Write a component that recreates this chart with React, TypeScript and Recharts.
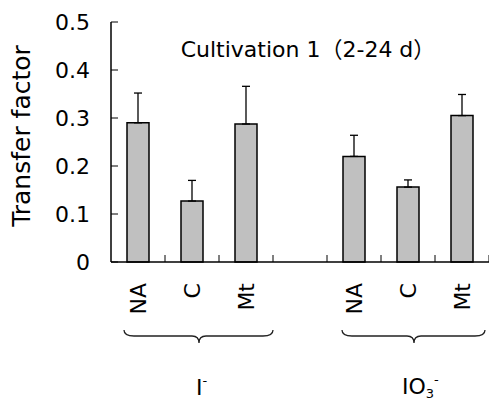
import { BarChart, Bar, XAxis, YAxis, ErrorBar, Customized } from "recharts";

const FONT = "'DejaVu Sans', 'Noto Sans CJK JP', sans-serif";

// categories along the x axis (empty slot separates the two groups)
const categories = ["NA", "C", "Mt", "", "NA", "C", "Mt"];
const transferFactor = [0.29, 0.127, 0.2875, null, 0.22, 0.156, 0.305];
const errorTop = [0.352, 0.17, 0.366, null, 0.264, 0.171, 0.349];
const yTicks = [0, 0.1, 0.2, 0.3, 0.4, 0.5];
const title = "Cultivation 1（2-24 d）";
const yLabel = "Transfer factor";

const W = 489;
const H = 401;
const LEFT = 111;
const TOP = 22;
const X_AXIS_H = 139;
const BAND = (W - LEFT) / categories.length;

const data = categories.map((c, i) => ({
  key: `c${i}`,
  label: c,
  value: transferFactor[i],
  err:
    transferFactor[i] == null
      ? null
      : [0, (errorTop[i] as number) - (transferFactor[i] as number)],
}));

const Brace = ({ x0, x1, xc, y }: { x0: number; x1: number; xc: number; y: number }) => {
  const r = 7;
  const d = `M${x0},${y} Q${x0},${y + 6} ${x0 + r + 3},${y + 6} L${xc - r},${y + 6} Q${xc},${y + 6} ${xc},${y + 13} Q${xc},${y + 6} ${xc + r},${y + 6} L${x1 - r - 3},${y + 6} Q${x1},${y + 6} ${x1},${y}`;
  return <path d={d} fill="none" stroke="#222" strokeWidth={1.3} />;
};

const XTick = (props: any) => {
  const { x, y, payload } = props;
  const i = payload.index;
  const label = categories[i];
  return (
    <g>
      <line x1={x + BAND / 2} y1={y} x2={x + BAND / 2} y2={y - 7} stroke="#000" strokeWidth={1} />
      {label && (
        <text
          x={x}
          y={y + 21}
          transform={`rotate(-90 ${x} ${y + 21})`}
          textAnchor="end"
          dy="0.36em"
          fontSize={22}
          fontFamily={FONT}
          fill="#000"
        >
          {label}
        </text>
      )}
      {i === 1 && (
        <g>
          <Brace x0={x - 68} x1={x + 81} xc={x + 7} y={y + 68} />
          <text x={x + 4} y={y + 133} fontSize={22} fontFamily={FONT} fill="#000">
            I<tspan dy={-10} fontSize={13}>-</tspan>
          </text>
        </g>
      )}
      {i === 5 && (
        <g>
          <Brace x0={x - 66} x1={x + 77} xc={x + 6} y={y + 68} />
          <text x={x - 6} y={y + 132} fontSize={22} fontFamily={FONT} fill="#000">
            IO<tspan dy={4} fontSize={13}>3</tspan>
            <tspan dy={-14} fontSize={13}>-</tspan>
          </text>
        </g>
      )}
    </g>
  );
};

const Annotations = () => (
  <g>
    <text x={308} y={57} textAnchor="middle" fontSize={22} fontFamily={FONT} fill="#000">
      {title}
    </text>
    <text
      x={21}
      y={136}
      transform="rotate(-90 21 136)"
      textAnchor="middle"
      dy="0.36em"
      fontSize={25}
      fontFamily={FONT}
      fill="#000"
    >
      {yLabel}
    </text>
  </g>
);

export default function App() {
  return (
    <div style={{ position: "absolute", left: 0, top: 0, background: "#fff" }}>
      <BarChart
        width={W}
        height={H}
        data={data}
        margin={{ top: TOP, right: 0, left: 0, bottom: 0 }}
        barSize={22}
      >
        <XAxis
          dataKey="key"
          height={X_AXIS_H}
          interval={0}
          tickLine={false}
          tickSize={0}
          tickMargin={0}
          axisLine={{ stroke: "#000", strokeWidth: 1.5 }}
          tick={<XTick />}
        />
        <YAxis
          width={LEFT}
          domain={[0, 0.5]}
          ticks={yTicks}
          interval={0}
          tickSize={-7}
          tickMargin={28}
          axisLine={{ stroke: "#000", strokeWidth: 1.5 }}
          tickLine={{ stroke: "#000", strokeWidth: 1 }}
          tick={{ fontSize: 22, fontFamily: FONT, fill: "#000" }}
        />
        <Bar dataKey="value" fill="#c0c0c0" stroke="#000" strokeWidth={1.5} isAnimationActive={false}>
          <ErrorBar dataKey="err" width={4} stroke="#000" strokeWidth={1.3} direction="y" />
        </Bar>
        <Customized component={Annotations} />
      </BarChart>
    </div>
  );
}
